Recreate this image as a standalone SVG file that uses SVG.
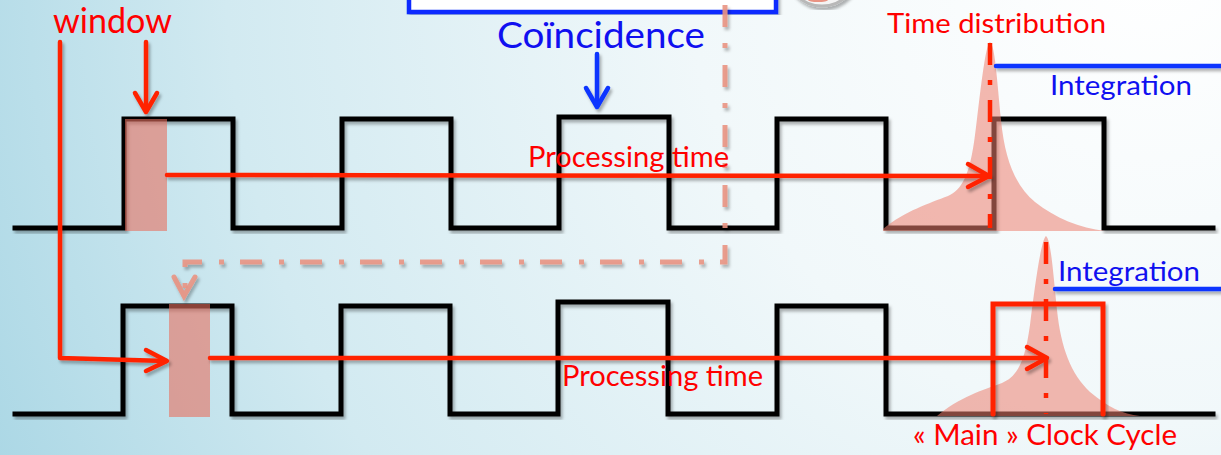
<svg xmlns="http://www.w3.org/2000/svg" width="1221" height="455" viewBox="0 0 1221 455">
<defs>
<radialGradient id="bg" gradientUnits="userSpaceOnUse" cx="1150" cy="-40" r="1320">
<stop offset="0" stop-color="#ffffff"/>
<stop offset="0.35" stop-color="#f1f8fa"/>
<stop offset="0.7" stop-color="#d2eaf1"/>
<stop offset="1" stop-color="#a4d4e3"/>
</radialGradient>
<filter id="sh" x="-5%" y="-5%" width="110%" height="110%">
<feDropShadow dx="2" dy="3" stdDeviation="1.5" flood-color="#000" flood-opacity="0.3"/>
</filter>
<style>
.wave{fill:none;stroke:#000;stroke-width:5;stroke-linejoin:miter;stroke-linecap:square}
.win{fill:#e8705f;fill-opacity:0.6}
.dist{fill:#ec8070;fill-opacity:0.55}
.red{fill:none;stroke:#ff2200;stroke-width:4.5;stroke-linecap:round;stroke-linejoin:round}
.redh{fill:none;stroke:#ff2200;stroke-width:5;stroke-linecap:round;stroke-linejoin:miter}
.blue{fill:none;stroke:#0a34ff;stroke-width:4.5;stroke-linecap:round;stroke-linejoin:round}
.dd{fill:none;stroke:#ff2200;stroke-width:4.5;stroke-dasharray:22 15 5 15}
.sal{fill:none;stroke:#e99383;stroke-width:5;stroke-opacity:0.9}
.t{font-family:Lato,'Open Sans',sans-serif}
.tr{fill:#ff0000}
.tb{fill:#1010f0}
</style>
</defs>
<rect x="0" y="0" width="1221" height="455" fill="url(#bg)"/>

<g id="coincidence-box" filter="url(#sh)">
<rect x="409" y="-30" width="367" height="42" fill="#ffffff" stroke="#0a2cff" stroke-width="4.5"/>
</g>
<g id="top-circle" filter="url(#sh)">
<circle cx="822" cy="-30" r="36" fill="#f4f4f4" stroke="#b8b8b8" stroke-width="3"/>
<ellipse cx="818" cy="0" rx="10" ry="2" fill="#e99383"/>
</g>

<g id="top-clock" filter="url(#sh)">
<path class="wave" d="M15,228 H124 V119 H233 V228 H342 V119 H451 V228 H559 V117 H669 V228 H777 V119 H886 V228 H994 V119 H1104 V228 H1213"/>
</g>
<g id="bottom-clock" filter="url(#sh)">
<path class="wave" d="M15,414 H123 V306 H232 V414 H341 V306 H450 V414 H558 V302 H668 V414 H777 V306 H886 V414 H1213"/>
</g>

<g id="window-top">
<rect class="win" x="125" y="119" width="42" height="112"/>
</g>
<g id="window-bottom">
<rect class="win" x="169" y="304" width="41" height="113"/>
</g>

<g id="dist-top">
<path class="dist" d="M883,229 C905,211 930,203 948,196 C962,190 970,175 975,135 C980,95 985,45 990,42 C995,45 997,80 1001,120 C1005,160 1015,185 1035,202 C1055,218 1080,228 1105,231 L883,231 Z"/>
</g>
<g id="dist-bottom">
<path class="dist" d="M937,416 C958,398 985,389 1002,383 C1017,377 1025,362 1030,325 C1035,285 1041,240 1046,236 C1051,240 1053,272 1057,310 C1061,348 1071,374 1090,392 C1108,407 1122,414 1140,416 Z"/>
</g>

<g id="main-cycle" filter="url(#sh)">
<path class="redh" d="M993,414 V304 H1103 V414"/>
</g>

<g id="connectors">
<g filter="url(#sh)">
<path class="sal" d="M725,5 V262 H185 V290" stroke-dasharray="22 16 5 17"/>
<path class="sal" d="M174,277 L184,296 L195,277" stroke-linecap="round"/>
</g>
<g filter="url(#sh)">
<path class="red" d="M60,42 V358 L166,361"/>
<path class="red" d="M146,350 L167,361 L146,371"/>
<path class="red" d="M146,42 V110"/>
<path class="red" d="M135,93 L146,112 L157,93"/>
<path class="red" d="M167,175 L987,176"/>
<path class="red" d="M968,164 L989,176 L968,187"/>
<path class="red" d="M210,358 L1046,358"/>
<path class="red" d="M1027,347 L1047,358 L1027,369"/>
<path class="blue" d="M597,54 V106"/>
<path class="blue" d="M586,88 L597,107 L608,88"/>
<path class="blue" d="M996,66 H1225"/>
<path class="blue" d="M1055,289 H1225"/>
</g>
<path class="dd" d="M990,43 V228"/>
<path class="dd" d="M1046,242 V414"/>
</g>

<g id="labels" class="t">
<text class="t tr" x="53" y="33" font-size="35" textLength="119" lengthAdjust="spacingAndGlyphs">window</text>
<text class="t tb" x="497" y="48" font-size="37" textLength="208" lengthAdjust="spacingAndGlyphs">Coïncidence</text>
<text class="t tr" x="887" y="33" font-size="27" textLength="219" lengthAdjust="spacingAndGlyphs">Time distribution</text>
<text class="t tb" x="1050" y="95" font-size="27" textLength="142" lengthAdjust="spacingAndGlyphs">Integration</text>
<text class="t tr" x="528" y="167" font-size="28" textLength="201" lengthAdjust="spacingAndGlyphs">Processing time</text>
<text class="t tb" x="1058" y="281" font-size="27" textLength="142" lengthAdjust="spacingAndGlyphs">Integration</text>
<text class="t tr" x="562" y="386" font-size="28" textLength="201" lengthAdjust="spacingAndGlyphs">Processing time</text>
<text class="t tr" x="913" y="445" font-size="28" textLength="264" lengthAdjust="spacingAndGlyphs">« Main » Clock Cycle</text>
</g>
</svg>
